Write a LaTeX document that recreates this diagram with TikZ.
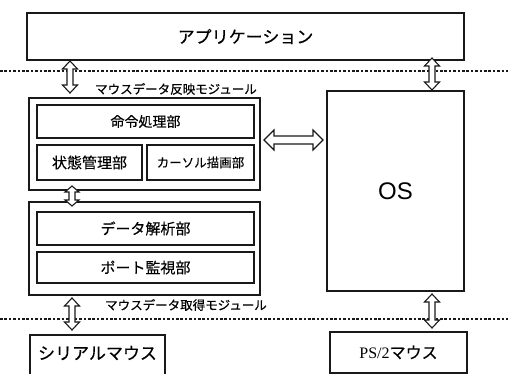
\documentclass[tikz,border=0pt]{standalone}
\usepackage{fontspec}
\newfontfamily\jp{Noto Sans CJK JP}[FakeBold=0.35]
\newfontfamily\arialf{Liberation Sans}
\newfontfamily\timesf{Liberation Serif}
\usetikzlibrary{calc}
\tikzset{
  outerbox/.style={draw=black!90, line width=1.8pt, inner sep=0pt},
  innerbox/.style={draw=black!90, line width=1.1pt, inner sep=0pt},
  hollowarrow/.style={draw=black!90, line width=1.1pt, fill=white, line join=miter},
  sepline/.style={draw=black!90, line width=2.8pt, dash pattern=on 2.6pt off 1.8pt},
  modlabel/.style={inner sep=0pt, font=\jp\fontsize{12.5}{14}\selectfont},
}
% vertical double arrow: #1 top, #2 bottom, #3 half head width, #4 head length
\newcommand\vdblarrow[4]{%
  \draw[hollowarrow] let \p1=(#1), \p2=(#2) in
    (\x1,\y1) -- (\x1+#3,\y1-#4) -- (\x1+3pt,\y1-#4) -- (\x1+3pt,\y2+#4) --
    (\x1+#3,\y2+#4) -- (\x1,\y2) -- (\x1-#3,\y2+#4) -- (\x1-3pt,\y2+#4) --
    (\x1-3pt,\y1-#4) -- (\x1-#3,\y1-#4) -- cycle;}
% horizontal double arrow: #1 left, #2 right
\newcommand\hdblarrow[2]{%
  \draw[hollowarrow] let \p1=(#1), \p2=(#2) in
    (\x1,\y1) -- (\x1+10pt,\y1+10pt) -- (\x1+10pt,\y1+4pt) -- (\x2-10pt,\y1+4pt) --
    (\x2-10pt,\y1+10pt) -- (\x2,\y1) -- (\x2-10pt,\y1-10pt) -- (\x2-10pt,\y1-4pt) --
    (\x1+10pt,\y1-4pt) -- (\x1+10pt,\y1-10pt) -- cycle;}
\begin{document}
\begin{tikzpicture}[x=1pt,y=-1pt]
\useasboundingbox (0,0) rectangle (508,374);
\fill[white] (0,0) rectangle (508,374);

% separator lines
\draw[sepline] (0,71) -- (508,71);
\draw[sepline] (0,319) -- (508,319);

% boxes
\node[outerbox, minimum width=437, minimum height=47, font=\jp\fontsize{17}{20}\selectfont] (app) at (245.5,36.5) {アプリケーション};

\node[outerbox, minimum width=231, minimum height=92] (modA) at (144.5,144) {};
\node[innerbox, minimum width=217, minimum height=33, font=\jp\fontsize{14}{16}\selectfont] (cmd) at (145.5,121.5) {命令処理部};
\node[innerbox, minimum width=105, minimum height=35, font=\jp\fontsize{15}{17}\selectfont] (state) at (89.5,162.5) {状態管理部};
\node[innerbox, minimum width=107, minimum height=35, font=\jp\fontsize{12.5}{14}\selectfont] (cursor) at (200.5,162.5) {カーソル描画部};
\node[modlabel] (labA) at (176,89) {マウスデータ反映モジュール};

\node[outerbox, minimum width=231, minimum height=93] (modB) at (144.5,248.5) {};
\node[innerbox, minimum width=217, minimum height=33, font=\jp\fontsize{15}{17}\selectfont] (data) at (145.5,228.5) {データ解析部};
\node[innerbox, minimum width=217, minimum height=31, font=\jp\fontsize{15}{17}\selectfont] (port) at (145.5,267.5) {ポート監視部};
\node[modlabel] (labB) at (186,305) {マウスデータ取得モジュール};

\node[outerbox, minimum width=137, minimum height=200, font=\arialf\fontsize{24}{28}\selectfont] (os) at (395.5,191) {OS};

\node[outerbox, minimum width=135, minimum height=43] (serial) at (97.5,356.5) {};
\node[inner sep=0pt, font=\jp\fontsize{17}{20}\selectfont] (serialtxt) at (97.5,353) {シリアルマウス};
\node[outerbox, minimum width=137, minimum height=41, font=\jp\fontsize{16}{19}\selectfont] (ps2) at (398.5,352.5) {{\timesf PS/2}マウス};

% arrow end points
\coordinate (a1t) at (70,61);   \coordinate (a1b) at (70,93);
\coordinate (a2t) at (432,58);  \coordinate (a2b) at (432,90);
\coordinate (a3t) at (72,186);  \coordinate (a3b) at (72,206);
\coordinate (a4t) at (72,298);  \coordinate (a4b) at (72,330);
\coordinate (a5t) at (432,294); \coordinate (a5b) at (432,328);
\coordinate (hl) at (264,140);  \coordinate (hr) at (323,140);

\vdblarrow{a1t}{a1b}{7.5pt}{8pt}
\vdblarrow{a2t}{a2b}{7.5pt}{8pt}
\vdblarrow{a3t}{a3b}{7pt}{6pt}
\vdblarrow{a4t}{a4b}{7.5pt}{8pt}
\vdblarrow{a5t}{a5b}{7.5pt}{8pt}
\hdblarrow{hl}{hr}
\end{tikzpicture}
\end{document}
